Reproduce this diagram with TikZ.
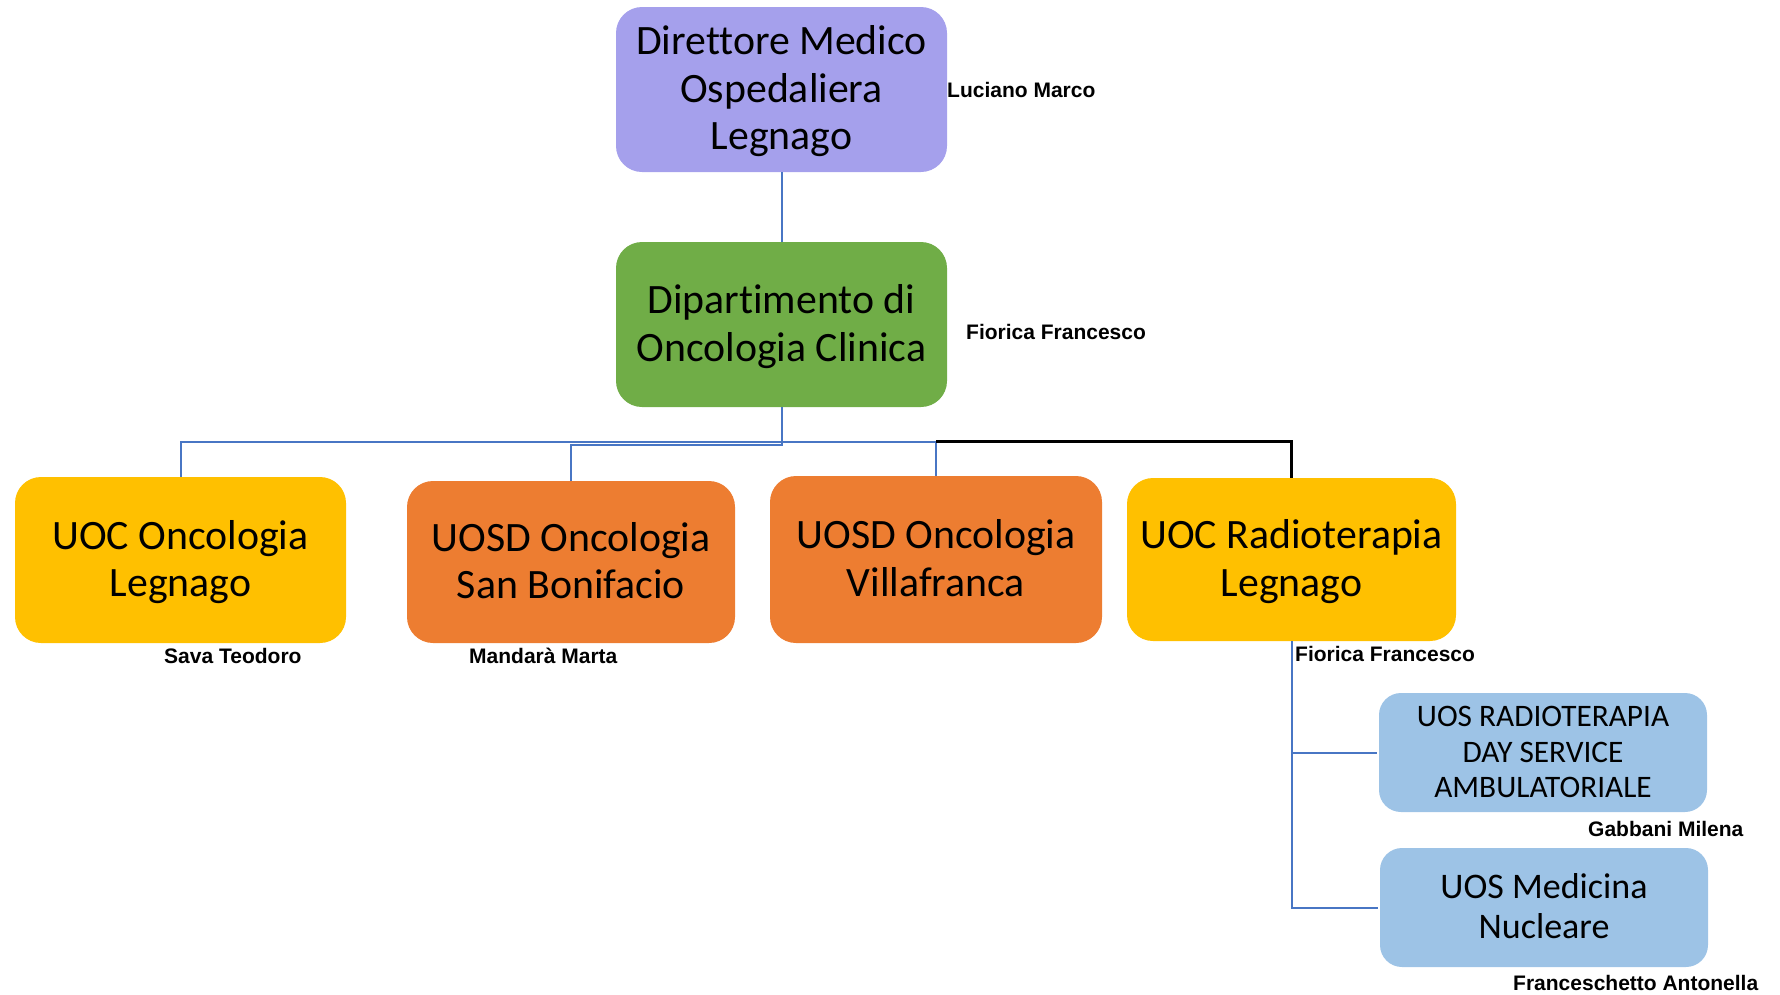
\documentclass[tikz,border=0pt]{standalone}
\usepackage{fontspec}
\setmainfont{Carlito}[Ligatures=NoCommon]
\newfontfamily\namefont{Liberation Sans}
% fixed line box (ascent/descent) so every line is centred like a word-processor line
\newcommand\lstr{\rule[-0.23\baselineskip]{0pt}{\baselineskip}}
\begin{document}
\begin{tikzpicture}[x=1pt,y=-1pt,
  unit/.style={rounded corners=26pt, inner sep=0pt, align=center, text=black},
  bigtext/.style={font=\fontsize{41.8}{47.5}\selectfont},
  dirbox/.style={unit, bigtext, fill=dirpurple},
  deptbox/.style={unit, bigtext, fill=deptgreen},
  uocbox/.style={unit, bigtext, fill=uocyellow},
  uosdbox/.style={unit, bigtext, fill=uosdorange},
  uosbox/.style={unit, rounded corners=22pt, fill=uosblue},
  person/.style={font=\namefont\bfseries\fontsize{21}{25}\selectfont, inner sep=0pt, anchor=base west},
  link/.style={draw=linkblue, line width=2pt},
  blacklink/.style={draw=black, line width=2.4pt}
]
\definecolor{dirpurple}{RGB}{165,160,236}
\definecolor{deptgreen}{RGB}{112,173,71}
\definecolor{uocyellow}{RGB}{255,192,0}
\definecolor{uosdorange}{RGB}{237,125,49}
\definecolor{uosblue}{RGB}{157,195,230}
\definecolor{linkblue}{RGB}{72,118,196}

\useasboundingbox (0,0) rectangle (1780,994);

% boxes
\node[dirbox, minimum width=331pt, minimum height=165pt] (dir) at (781.5,89.5)
  {\lstr Direttore Medico\\\lstr Ospedaliera\\\lstr Legnago};
\node[deptbox, minimum width=331pt, minimum height=165pt] (dept) at (781.5,324.5)
  {\lstr Dipartimento di\\\lstr Oncologia Clinica};
\node[uocbox, minimum width=331pt, minimum height=166pt] (uocL) at (180.5,560)
  {\lstr UOC Oncologia\\\lstr Legnago};
\node[uosdbox, minimum width=328pt, minimum height=162pt] (uosdSB) at (571,562)
  {\lstr UOSD Oncologia\\\lstr San Bonifacio};
\node[uosdbox, minimum width=332pt, minimum height=167pt] (uosdVF) at (936,559.5)
  {\lstr UOSD Oncologia\\\lstr Villafranca};
\node[uocbox, minimum width=329pt, minimum height=163pt] (uocR) at (1291.5,559.5)
  {\lstr UOC Radioterapia\\\lstr Legnago};
\node[uosbox, minimum width=328pt, minimum height=119pt, font=\fontsize{31.3}{35.5}\selectfont] (uosRT) at (1543,752.5)
  {\lstr UOS RADIOTERAPIA\\\lstr DAY SERVICE\\\lstr AMBULATORIALE};
\node[uosbox, minimum width=328pt, minimum height=119pt, font=\fontsize{36}{40.5}\selectfont] (uosMN) at (1544,907.5)
  {\lstr UOS Medicina\\\lstr Nucleare};

% responsible persons
\node[person] (pDir) at (947,97) {Luciano Marco};
\node[person] (pDept) at (966,339) {Fiorica Francesco};
\node[person] (pUocL) at (164,663) {Sava Teodoro};
\node[person] (pSB) at (469,663) {Mandarà Marta};
\node[person] (pUocR) at (1295,661) {Fiorica Francesco};
\node[person] (pRT) at (1588,836) {Gabbani Milena};
\node[person] (pMN) at (1513,990) {Franceschetto Antonella};

% bus levels
\coordinate (bus) at (0,441.5);
\coordinate (busB) at (0,444.5);

% connectors
\draw[link] (dir.south) -- (dept.south |- dept.north);
\draw[link] (uocL.north) |- (bus -| uosdVF.north) -- (uosdVF.north);
\draw[link] (dept.south) |- (busB -| uosdSB.north) -- (uosdSB.north);
\draw[blacklink] (bus -| uosdVF.north) -| (uocR.north);
\draw[link] (uocR.south) |- ([xshift=-2pt]uosRT.west);
\draw[link] (uocR.south) |- ([xshift=-2pt]uosMN.west);
\end{tikzpicture}
\end{document}
